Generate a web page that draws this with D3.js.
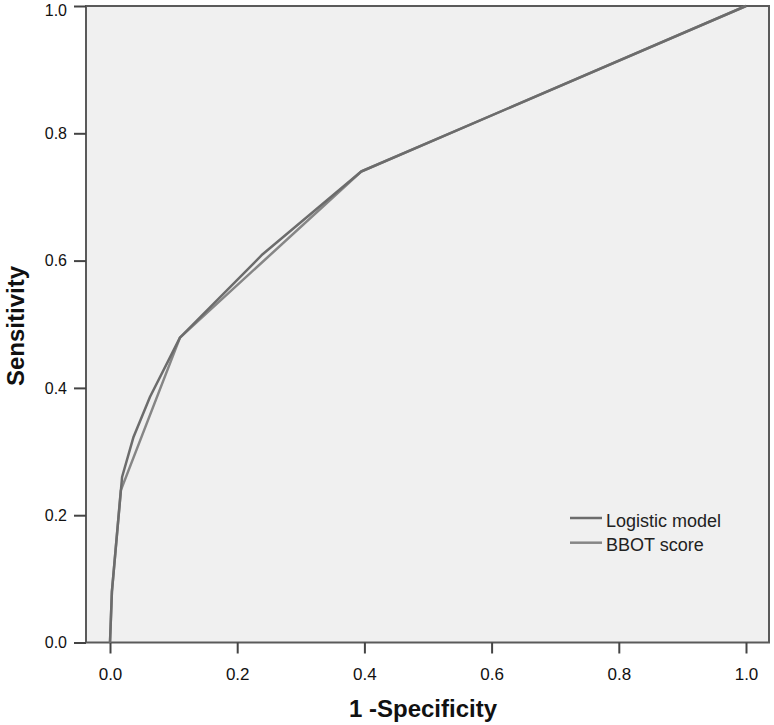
<!DOCTYPE html>
<html>
<head>
<meta charset="utf-8">
<script src="https://cdn.jsdelivr.net/npm/d3@7"></script>
<style>
  body { margin: 0; background: #fff; }
  text { font-family: "Liberation Sans", Arial, sans-serif; }
</style>
</head>
<body>
<svg width="774" height="725"></svg>
<script>
// ROC curves
let logisticFpr = [0, 0.003, 0.019, 0.037, 0.063, 0.11, 0.24, 0.395, 1];
let logisticTpr = [0, 0.08, 0.26, 0.323, 0.386, 0.479, 0.61, 0.74, 1];
let bbotFpr = [0, 0.003, 0.017, 0.11, 0.395, 1];
let bbotTpr = [0, 0.08, 0.239, 0.479, 0.74, 1];
let tickValues = [0, 0.2, 0.4, 0.6, 0.8, 1.0];
let seriesNames = ["Logistic model", "BBOT score"];
let seriesColors = ["#6c6c6c", "#868686"];

let svg = d3.select("svg");

let x = d3.scaleLinear().domain([0, 1]).range([110, 746]);
let y = d3.scaleLinear().domain([0, 1]).range([642.5, 6]);

let frameLeft = 86, frameRight = 769;

// plot background + frame
svg.append("rect")
  .attr("x", frameLeft)
  .attr("y", y(1))
  .attr("width", frameRight - frameLeft)
  .attr("height", y(0) - y(1))
  .style("fill", "#f0f0f0")
  .style("stroke", "#5a5a5a")
  .style("stroke-width", 2);

// y axis ticks
let yAxis = svg.append("g").attr("transform", "translate(" + frameLeft + ",0)")
  .call(d3.axisLeft(y).tickValues(tickValues).tickFormat(d3.format(".1f")).tickSize(12).tickPadding(7));
yAxis.select(".domain").remove();
yAxis.selectAll("line").style("stroke", "#444").style("stroke-width", 2);
yAxis.selectAll("text").style("font-size", "16px").style("fill", "#111")
  .style("font-family", "'Liberation Sans', Arial, sans-serif")
  .attr("y", d => (d == 1 ? 4 : 0));

// x axis ticks
let xAxis = svg.append("g").attr("transform", "translate(0," + y(0) + ")")
  .call(d3.axisBottom(x).tickValues(tickValues).tickFormat(d3.format(".1f")).tickSize(11).tickPadding(14));
xAxis.select(".domain").remove();
xAxis.selectAll("line").style("stroke", "#444").style("stroke-width", 2);
xAxis.selectAll("text").style("font-size", "17px").style("fill", "#111")
  .style("font-family", "'Liberation Sans', Arial, sans-serif");

// lines
let line = d3.line().x(d => x(d[0])).y(d => y(d[1]));
let series = [
  d3.zip(bbotFpr, bbotTpr),
  d3.zip(logisticFpr, logisticTpr)
];
let colorsDrawn = [seriesColors[1], seriesColors[0]];
svg.append("g").selectAll("path")
  .data(series)
  .enter()
  .append("path")
  .attr("d", line)
  .style("fill", "none")
  .style("stroke", (d, i) => colorsDrawn[i])
  .style("stroke-width", 2.5)
  .style("stroke-linejoin", "round");

// legend
let legend = svg.append("g").attr("transform", "translate(570,518)");
legend.selectAll("line")
  .data(seriesNames)
  .enter()
  .append("line")
  .attr("x1", 0).attr("x2", 32)
  .attr("y1", (d, i) => i * 24.7).attr("y2", (d, i) => i * 24.7)
  .style("stroke", (d, i) => seriesColors[i])
  .style("stroke-width", 2.5);
legend.selectAll("text")
  .data(seriesNames)
  .enter()
  .append("text")
  .attr("x", 36)
  .attr("y", (d, i) => i * 24.7 + 8.5)
  .style("font-size", "18px")
  .style("fill", "#222")
  .text(d => d);

// axis titles
svg.append("text")
  .attr("x", 423).attr("y", 717)
  .attr("text-anchor", "middle")
  .style("font-size", "24px").style("font-weight", "bold").style("fill", "#111")
  .text("1 -Specificity");

svg.append("text")
  .attr("transform", "translate(24,326) rotate(-90)")
  .attr("text-anchor", "middle")
  .style("font-size", "24px").style("font-weight", "bold").style("fill", "#111")
  .text("Sensitivity");
</script>
</body>
</html>
